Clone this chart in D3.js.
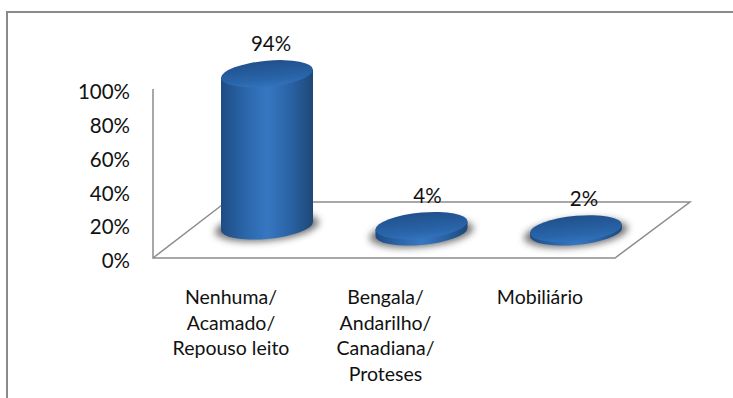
<!DOCTYPE html>
<html>
<head>
<meta charset="utf-8">
<script src="https://cdn.jsdelivr.net/npm/d3@7/dist/d3.min.js"></script>
<style>
html,body{margin:0;padding:0;background:#fff;overflow:hidden}
text{font-family:Lato,"Open Sans",sans-serif;fill:#111}
</style>
</head>
<body>
<svg id="chart" width="733" height="398"></svg>
<script>
const categories = [
  ["Nenhuma/", "Acamado/", "Repouso leito"],
  ["Bengala/", "Andarilho/", "Canadiana/", "Proteses"],
  ["Mobiliário"]
];
const values = [94, 4, 2];
const tickValues = [0, 20, 40, 60, 80, 100];

const svg = d3.select("#chart");
const idx = values.map((_, i) => i);

// Scales: wall axis, column height above the floor, column and label positions
const yAxisScale = d3.scaleLinear().domain([0, 100]).range([258, 89]);
const heightScale = d3.scaleLinear().domain([0, 100]).range([0, 162]);
const xColumn = d3.scalePoint().domain(idx).range([267, 576]);
const xValueLabel = d3.scalePoint().domain(idx).range([271, 584]);
const xCategory = d3.scalePoint().domain(idx).range([231, 540]);
const floorY = d3.scalePoint().domain(idx).range([226, 232]);
const baseY = i => i === 0 ? floorY(0) : floorY(2);

const rx = 46, ry = 13, skew = -5;

const defs = svg.append("defs");
const body = defs.append("linearGradient").attr("id", "body");
[[0, "#1e4c84"], [0.25, "#2a65a8"], [0.5, "#3777c2"], [0.75, "#2a63a5"], [1, "#1d4877"]]
  .forEach(([o, c]) => body.append("stop").attr("offset", o).attr("stop-color", c));
const cap = defs.append("linearGradient").attr("id", "cap")
  .attr("x1", 0).attr("y1", 0).attr("x2", 0).attr("y2", 1);
[[0, "#20508c"], [0.75, "#2a66ab"], [1, "#3272bd"]]
  .forEach(([o, c]) => cap.append("stop").attr("offset", o).attr("stop-color", c));
defs.append("filter").attr("id", "soft")
  .attr("x", "-30%").attr("y", "-60%").attr("width", "160%").attr("height", "220%")
  .append("feGaussianBlur").attr("stdDeviation", 3.5);

// Outer chart frame, open towards the right and bottom edges
svg.append("path")
  .attr("d", d3.line()([[7, 398], [7, 12], [733, 12]]))
  .attr("fill", "none").attr("stroke", "#8a8a8a").attr("stroke-width", 2);

// Wall axis and perspective floor
svg.append("path")
  .attr("d", d3.line()([[153, yAxisScale(100)], [153, yAxisScale(0)], [615, yAxisScale(0)], [690, 202], [222, 202]]))
  .attr("fill", "none").attr("stroke", "#8c8c8c").attr("stroke-width", 1.5);
svg.append("line")
  .attr("x1", 153).attr("y1", yAxisScale(0)).attr("x2", 222).attr("y2", 205)
  .attr("stroke", "#8c8c8c").attr("stroke-width", 1.5);

svg.append("g").selectAll("text").data(tickValues).join("text")
  .attr("x", 130).attr("y", d => yAxisScale(d) + 3)
  .attr("dy", "0.35em").attr("text-anchor", "end")
  .attr("font-size", 20.5).text(d => d + "%");

// Columns: soft floor shadow, body, then the slanted cap
const columns = svg.append("g").selectAll("g").data(idx).join("g");

columns.append("ellipse")
  .attr("cx", 0).attr("cy", 1)
  .attr("rx", rx + 6).attr("ry", ry + 1)
  .attr("transform", i => `translate(${xColumn(i)},${baseY(i)}) skewY(${skew})`)
  .attr("fill", "#4a4a4a").attr("opacity", 0.75).attr("filter", "url(#soft)");

columns.append("path")
  .attr("d", i => {
    const h = heightScale(values[i]);
    return `M${-rx},${-h}L${-rx},0A${rx},${ry} 0 0 0 ${rx},0L${rx},${-h}Z`;
  })
  .attr("transform", i => `translate(${xColumn(i)},${baseY(i)}) skewY(${skew})`)
  .attr("fill", "url(#body)");

columns.append("ellipse")
  .attr("cx", 0).attr("cy", 0).attr("rx", rx).attr("ry", ry)
  .attr("transform", i => `translate(${xColumn(i)},${baseY(i) - heightScale(values[i])}) skewY(${skew})`)
  .attr("fill", "url(#cap)");

// Value labels sit above each column top
svg.append("g").selectAll("text").data(idx).join("text")
  .attr("x", i => xValueLabel(i))
  .attr("y", i => baseY(i) - heightScale(values[i]) - 30)
  .attr("dy", "0.35em").attr("text-anchor", "middle")
  .attr("font-size", 20.5).text(i => values[i] + "%");

// Multi-line category labels
svg.append("g").selectAll("text").data(idx).join("text")
  .attr("x", i => xCategory(i)).attr("y", 304)
  .attr("text-anchor", "middle").attr("font-size", 19.5)
  .selectAll("tspan").data(i => categories[i].map(t => ({ t, i }))).join("tspan")
  .attr("x", d => xCategory(d.i))
  .attr("dy", (d, k) => k === 0 ? 0 : 25.5)
  .text(d => d.t);
</script>
</body>
</html>
